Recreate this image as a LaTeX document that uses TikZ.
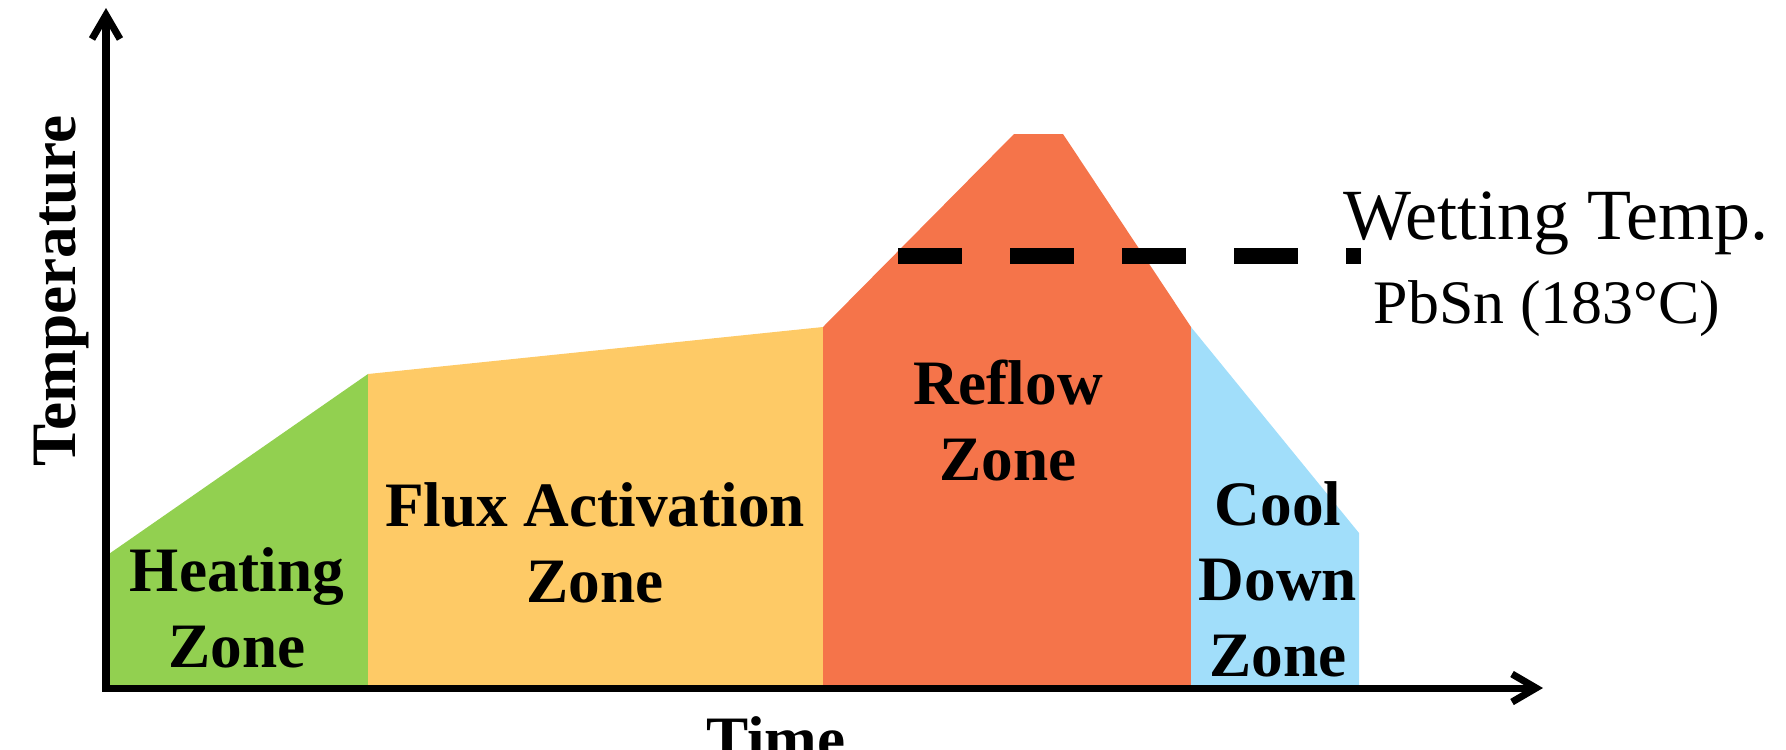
\documentclass[tikz,border=0pt]{standalone}
\usepackage{fontspec}
\setmainfont{Liberation Serif}
\usetikzlibrary{arrows.meta}

\definecolor{heatgreen}{RGB}{146,208,80}
\definecolor{fluxyellow}{RGB}{254,202,102}
\definecolor{reflowred}{RGB}{245,116,74}
\definecolor{coolblue}{RGB}{161,222,250}

\begin{document}
\begin{tikzpicture}[
    zone/.style={font=\fontsize{18}{21.4}\selectfont\bfseries, align=center, anchor=base, inner sep=0pt},
    axis/.style={line width=2pt, {Straight Barb[length=2.4mm,width=2.8mm]}-{Straight Barb[length=2.4mm,width=2.8mm]}}]
    \useasboundingbox (-1.06,-0.61) rectangle (16.80,6.88);

    % the four zones of the profile
    \fill[heatgreen] (0,0) -- (2.62,0) -- (2.62,3.14) -- (0,1.32) -- cycle;
    \fill[fluxyellow] (2.62,0) -- (7.17,0) -- (7.17,3.61) -- (2.62,3.14) -- cycle;
    \fill[reflowred] (7.17,0) -- (10.85,0) -- (10.85,3.61) -- (9.57,5.54) -- (9.08,5.54) -- (7.17,3.61) -- cycle;
    \fill[coolblue] (10.85,0) -- (12.53,0) -- (12.53,1.55) -- (10.85,3.61) -- cycle;

    % wetting temperature level
    \draw[line width=4.5pt, dash pattern=on 0.64cm off 0.48cm] (7.92,4.32) -- (12.55,4.32);

    % axes
    \draw[axis] (0,6.80) -- (0,0) -- (14.37,0);

    % labels sit on the baseline of their last line
    \node[zone] (heating) at (1.31,0.21) {Heating\\Zone};
    \node[zone] (flux) at (4.89,0.86) {Flux Activation\\Zone};
    \node[zone] (reflow) at (9.02,2.08) {Reflow\\Zone};
    \node[zone] (cool) at (11.72,0.12) {Cool\\Down\\Zone};

    \node[anchor=base, inner sep=0pt, font=\fontsize{20.5}{24}\selectfont] (wetting) at (14.50,4.49) {Wetting Temp.};
    \node[anchor=base, inner sep=0pt, font=\fontsize{17.6}{21}\selectfont] (alloy) at (14.41,3.65) {PbSn (183°C)};

    \node[zone, rotate=90] (templabel) at (-0.31,3.97) {Temperature};
    \node[zone] (timelabel) at (6.70,-0.72) {Time};
\end{tikzpicture}
\end{document}
